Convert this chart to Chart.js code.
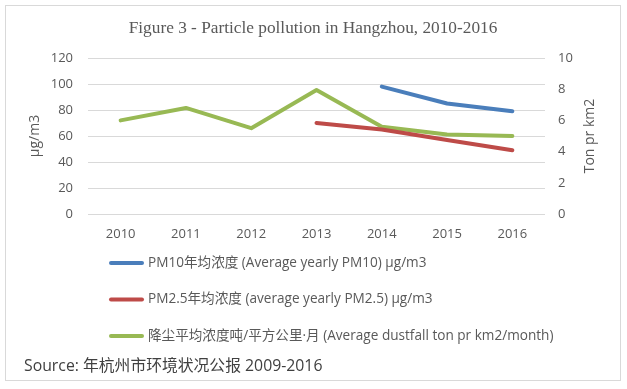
<!DOCTYPE html>
<html>
<head>
<meta charset="utf-8">
<script src="https://cdn.jsdelivr.net/npm/chart.js@4"></script>
<style>
  html, body { margin: 0; padding: 0; background: #fff; }
  #wrap { position: relative; width: 627px; height: 389px; }
</style>
</head>
<body>
<div id="wrap"><canvas id="chart"></canvas></div>
<script>
"use strict";

// ── Data ──────────────────────────────────────────────────────────────
const years = ['2010', '2011', '2012', '2013', '2014', '2015', '2016'];
const pm10  = [null, null, null, null, 98, 85, 79];     // µg/m3
const pm25  = [null, null, null, 70, 65, 57, 49];       // µg/m3
const dust  = [6.0, 6.8, 5.5, 7.95, 5.6, 5.1, 5.0];     // ton / km2 / month

const seriesLabels = [
  'PM10年均浓度 (Average yearly PM10) µg/m3',
  'PM2.5年均浓度 (average yearly PM2.5) µg/m3',
  '降尘平均浓度吨/平方公里·月 (Average dustfall ton pr km2/month)'
];
const seriesColors = ['#4a7ebb', '#be4b48', '#98b954'];

const titleText  = 'Figure 3 - Particle pollution in Hangzhou, 2010-2016';
const sourceText = 'Source: 年杭州市环境状况公报 2009-2016';
const rightTitle = 'Ton pr km2';

const leftTicks  = [0, 20, 40, 60, 80, 100, 120];
const rightTicks = [0, 2, 4, 6, 8, 10];

const SANS = '"Open Sans", "Noto Sans CJK SC", sans-serif';
const GREY = '#595959';

// ── Frame, title, legend, source (drawn around the chart) ─────────────
const decor = {
  id: 'decor',
  beforeDraw(chart) {
    const c = chart.ctx;
    c.save();
    c.fillStyle = '#fff';
    c.fillRect(0, 0, chart.width, chart.height);
    c.strokeStyle = '#d9d9d9';
    c.lineWidth = 1;
    c.strokeRect(5.5, 5.5, 615, 375);
    c.restore();
  },
  afterDraw(chart) {
    const c = chart.ctx;
    c.save();
    c.fillStyle = GREY;
    c.font = '17.3px "Liberation Serif", serif';
    c.textAlign = 'center';
    c.textBaseline = 'alphabetic';
    c.fillText(titleText, 313, 33);

    // right axis title reads bottom-to-top, like the left one
    const { top, bottom } = chart.chartArea;
    c.save();
    c.translate(590, (top + bottom) / 2);
    c.rotate(-Math.PI / 2);
    c.textBaseline = 'middle';
    c.font = '14px ' + SANS;
    c.fillText(rightTitle, 0, 0);
    c.restore();

    // vertical legend
    c.textAlign = 'left';
    c.textBaseline = 'middle';
    c.font = '13.6px ' + SANS;
    chart.data.datasets.forEach((ds, i) => {
      const y = 263 + i * 36.5;
      c.strokeStyle = ds.borderColor;
      c.lineWidth = 4;
      c.lineCap = 'round';
      c.beginPath(); c.moveTo(111, y); c.lineTo(142, y); c.stroke();
      c.fillStyle = GREY;
      c.fillText(ds.label, 148, y);
    });

    c.fillStyle = '#404040';
    c.font = '15.8px ' + SANS;
    c.fillText(sourceText, 24, 366);
    c.restore();
  }
};

const tickFont = { family: SANS, size: 13 };

new Chart(document.getElementById('chart'), {
  type: 'line',
  data: {
    labels: years,
    datasets: [
      { label: seriesLabels[0], data: pm10, yAxisID: 'y',  borderColor: seriesColors[0] },
      { label: seriesLabels[1], data: pm25, yAxisID: 'y',  borderColor: seriesColors[1] },
      { label: seriesLabels[2], data: dust, yAxisID: 'y1', borderColor: seriesColors[2] }
    ].map(d => Object.assign(d, {
      borderWidth: 4, pointRadius: 0, tension: 0, fill: false,
      borderCapStyle: 'round', borderJoinStyle: 'round', spanGaps: false
    }))
  },
  options: {
    responsive: true,
    maintainAspectRatio: false,
    animation: false,
    layout: { padding: { left: 27, right: 29, top: 58, bottom: 151 } },
    plugins: {
      legend: { display: false },
      title: { display: false },
      tooltip: { enabled: false }
    },
    scales: {
      x: {
        offset: true,
        grid: { display: false, drawTicks: false },
        border: { display: false },
        ticks: { color: GREY, font: tickFont, padding: 12, maxRotation: 0 },
        afterFit: s => { s.height = 24; }
      },
      y: {
        position: 'left',
        min: 0, max: 120,
        afterBuildTicks: s => { s.ticks = leftTicks.map(v => ({ value: v })); },
        grid: { color: '#d9d9d9', drawTicks: false },
        border: { display: false },
        ticks: { color: GREY, font: tickFont, padding: 15 },
        title: { display: true, text: 'µg/m3', color: GREY, font: { family: SANS, size: 14 }, padding: 0 },
        afterFit: s => { s.width = 61; }
      },
      y1: {
        position: 'right',
        min: 0, max: 10,
        afterBuildTicks: s => { s.ticks = rightTicks.map(v => ({ value: v })); },
        grid: { display: false, drawTicks: false },
        border: { display: false },
        ticks: { color: GREY, font: tickFont, padding: 13 },
        afterFit: s => { s.width = 53; }
      }
    }
  },
  plugins: [decor]
});
</script>
</body>
</html>
